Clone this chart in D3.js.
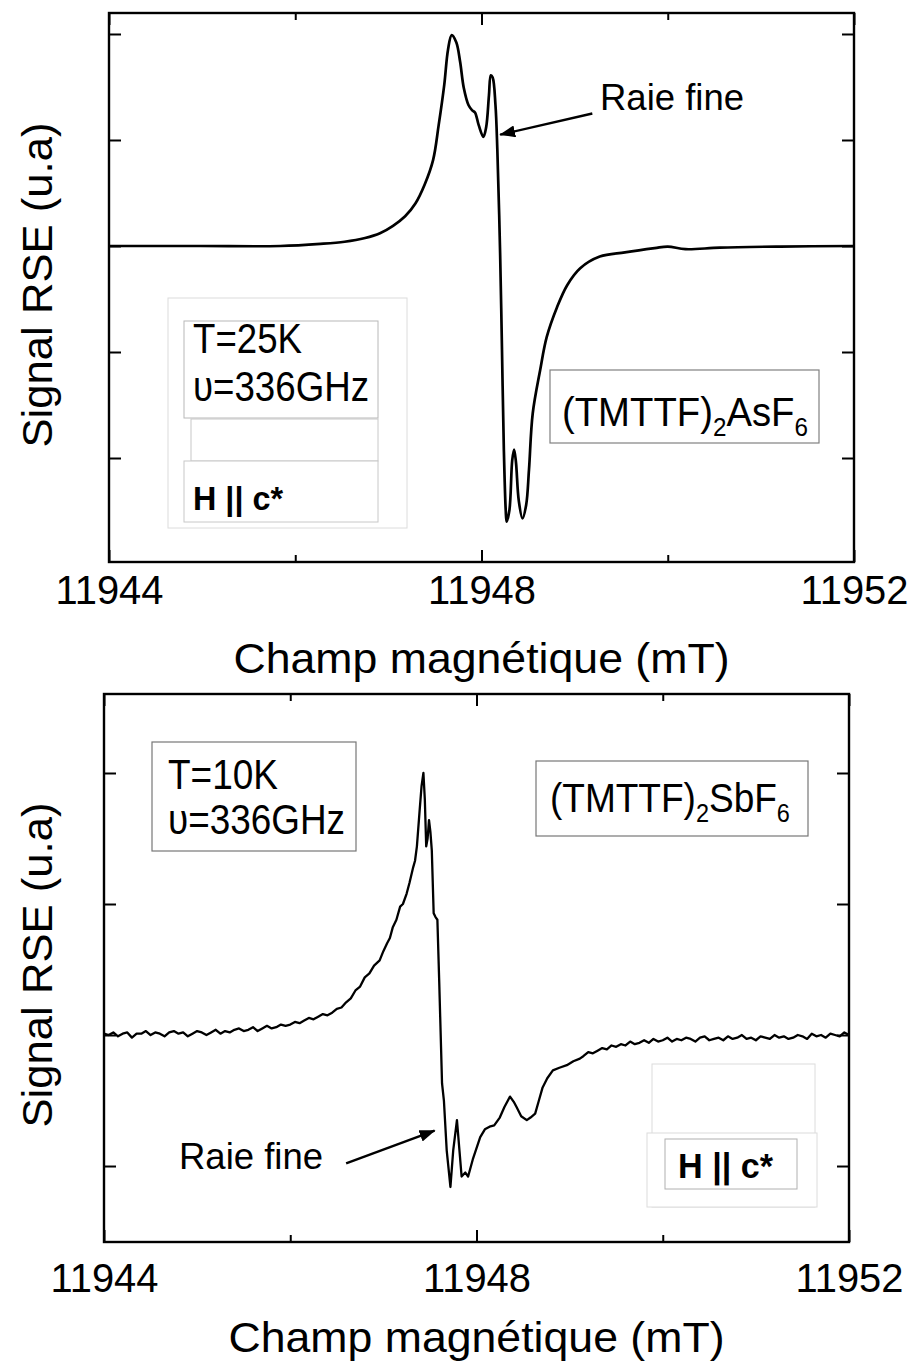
<!DOCTYPE html>
<html>
<head>
<meta charset="utf-8">
<script src="https://cdn.jsdelivr.net/npm/d3@7"></script>
<style>
  html, body { margin: 0; padding: 0; background: #fff; }
  svg { display: block; }
  text { font-family: "Liberation Sans", Arial, sans-serif; fill: #000; }
</style>
</head>
<body>
<svg id="chart" width="910" height="1361"></svg>
<script>
// ---------------- DATA ----------------
const xTicks = [11944, 11946, 11948, 11950, 11952];
const xTickLabels = ["11944", "", "11948", "", "11952"];
const yTicksTop = [-2, -1, 0, 1, 2];
const yTicksBottom = [-1, 0, 1, 2];

// Top panel: (TMTTF)2AsF6, T = 25 K
const fieldTop = [
  11944.00, 11944.98, 11945.84, 11946.27, 11946.53, 11946.75, 11946.91, 11947.05,
  11947.18, 11947.29, 11947.39, 11947.48, 11947.54, 11947.60, 11947.64, 11947.68,
  11947.73, 11947.77, 11947.81, 11947.86, 11947.90, 11947.93, 11947.97, 11948.02,
  11948.05, 11948.08, 11948.10, 11948.12, 11948.15, 11948.17, 11948.20, 11948.22,
  11948.24, 11948.26, 11948.27, 11948.30, 11948.33, 11948.35, 11948.37, 11948.40,
  11948.44, 11948.48, 11948.51, 11948.55, 11948.63, 11948.70, 11948.81, 11948.92,
  11949.06, 11949.27, 11949.54, 11949.86, 11950.00, 11950.19, 11950.56, 11951.21,
  11952.00
];
const signalTop = [
  0.00, 0.00, 0.00, 0.02, 0.04, 0.075, 0.12, 0.19,
  0.28, 0.40, 0.58, 0.81, 1.14, 1.52, 1.85, 1.99,
  1.92, 1.74, 1.49, 1.33, 1.28, 1.26, 1.14, 1.03,
  1.12, 1.42, 1.61, 1.59, 1.33, 0.91, -0.07, -0.98,
  -1.92, -2.49, -2.60, -2.49, -2.02, -1.92, -2.04, -2.40,
  -2.57, -2.44, -2.11, -1.58, -1.17, -0.86, -0.58, -0.37,
  -0.21, -0.10, -0.06, -0.02, -0.005, -0.03, -0.015, -0.005,
  0.00
];

// Bottom panel: (TMTTF)2SbF6, T = 10 K
const fieldBottom = [
  11944.00, 11944.05, 11944.10, 11944.15, 11944.20, 11944.25, 11944.30, 11944.35, 11944.40, 11944.45,
  11944.50, 11944.55, 11944.60, 11944.65, 11944.70, 11944.75, 11944.80, 11944.85, 11944.90, 11944.95,
  11945.00, 11945.05, 11945.10, 11945.15, 11945.20, 11945.25, 11945.30, 11945.35, 11945.40, 11945.45,
  11945.50, 11945.55, 11945.60, 11945.65, 11945.70, 11945.75, 11945.80, 11945.85, 11945.90, 11945.95,
  11946.00, 11946.05, 11946.10, 11946.15, 11946.20, 11946.25, 11946.30, 11946.35, 11946.40, 11946.45,
  11946.50, 11946.55, 11946.60, 11946.65, 11946.70, 11946.75, 11946.80, 11946.85, 11946.90, 11946.96,
  11947.00, 11947.04, 11947.07, 11947.10, 11947.14, 11947.18, 11947.21, 11947.25, 11947.28, 11947.32,
  11947.34, 11947.36, 11947.39, 11947.41, 11947.43, 11947.445, 11947.46, 11947.475, 11947.49, 11947.505,
  11947.52, 11947.54, 11947.56, 11947.58, 11947.60, 11947.63, 11947.65, 11947.68, 11947.72, 11947.75,
  11947.79, 11947.84, 11947.88, 11947.91, 11947.96, 11948.04, 11948.09, 11948.14, 11948.19, 11948.25,
  11948.30, 11948.36, 11948.40, 11948.43, 11948.48, 11948.54, 11948.58, 11948.63, 11948.67, 11948.71,
  11948.76, 11948.82, 11948.89, 11948.97, 11949.04, 11949.11,
  11949.15, 11949.20, 11949.25, 11949.30, 11949.35, 11949.40, 11949.45, 11949.50, 11949.55, 11949.60,
  11949.65, 11949.70, 11949.75, 11949.80, 11949.85, 11949.90, 11949.95, 11950.00, 11950.05, 11950.10,
  11950.15, 11950.20, 11950.25, 11950.30, 11950.35, 11950.40, 11950.45, 11950.50, 11950.55, 11950.60,
  11950.65, 11950.70, 11950.75, 11950.80, 11950.85, 11950.90, 11950.95, 11951.00, 11951.05, 11951.10,
  11951.15, 11951.20, 11951.25, 11951.30, 11951.35, 11951.40, 11951.45, 11951.50, 11951.55, 11951.60,
  11951.65, 11951.70, 11951.75, 11951.80, 11951.85, 11951.90, 11951.95, 11952.00
];
const signalBottom = [
  0.01, 0.00, 0.02, -0.01, 0.01, 0.02, -0.02, 0.01, 0.01, 0.03,
  0.00, 0.02, 0.01, -0.01, 0.02, 0.03, 0.01, 0.02, -0.01, 0.01,
  0.03, 0.02, 0.00, 0.02, 0.04, 0.01, 0.03, 0.02, 0.04, 0.05,
  0.03, 0.04, 0.06, 0.03, 0.05, 0.07, 0.05, 0.06, 0.08, 0.07,
  0.08, 0.10, 0.09, 0.11, 0.13, 0.12, 0.14, 0.16, 0.15, 0.17,
  0.20, 0.21, 0.25, 0.28, 0.34, 0.37, 0.44, 0.47, 0.53, 0.57,
  0.64, 0.70, 0.74, 0.82, 0.88, 0.98, 1.00, 1.08, 1.16, 1.28,
  1.33, 1.44, 1.72, 1.90, 2.00, 1.80, 1.44, 1.50, 1.64, 1.55,
  1.41, 0.93, 0.90, 0.88, 0.40, -0.37, -0.50, -0.88, -1.16, -0.88,
  -0.65, -1.08, -1.05, -1.08, -0.95, -0.78, -0.72, -0.70, -0.69, -0.63,
  -0.55, -0.47, -0.51, -0.55, -0.62, -0.65, -0.63, -0.60, -0.50, -0.40,
  -0.33, -0.27, -0.25, -0.23, -0.20, -0.18,
  -0.16, -0.13, -0.14, -0.12, -0.10, -0.11, -0.08, -0.09, -0.07, -0.08,
  -0.05, -0.07, -0.06, -0.04, -0.06, -0.03, -0.05, -0.04, -0.02, -0.05,
  -0.03, -0.04, -0.02, -0.03, -0.05, -0.02, -0.01, -0.04, -0.03, -0.02,
  -0.04, -0.01, -0.03, -0.02, 0.00, -0.03, -0.02, -0.04, -0.01, -0.02,
  -0.03, 0.00, -0.02, -0.01, -0.03, -0.02, 0.00, -0.01, -0.03, 0.01,
  -0.01, 0.00, -0.02, 0.01, 0.00, -0.01, 0.02, 0.00
];

// ---------------- LAYOUT ----------------
const svg = d3.select("#chart");
const FONT = '"Liberation Sans", Arial, sans-serif';

svg.append("defs").append("marker")
  .attr("id", "arrow")
  .attr("markerUnits", "userSpaceOnUse")
  .attr("viewBox", "0 0 16 12")
  .attr("refX", 15).attr("refY", 6)
  .attr("markerWidth", 16).attr("markerHeight", 12)
  .attr("orient", "auto")
  .append("path").attr("d", "M0,0 L16,6 L0,12 Z").attr("fill", "#000");

function label(g, txt, x, y, size, width, opts = {}) {
  const t = g.append("text")
    .attr("x", x).attr("y", y)
    .attr("font-size", size)
    .attr("font-weight", opts.bold ? "bold" : null)
    .attr("text-anchor", opts.anchor || "start")
    .text(txt);
  if (width) t.attr("textLength", width).attr("lengthAdjust", "spacingAndGlyphs");
  if (opts.transform) t.attr("transform", opts.transform);
  return t;
}

function formula(g, x, y, main1, sub1, main2, sub2, targetW) {
  const grp = g.append("g");
  const t = grp.append("text").attr("x", 0).attr("y", 0).attr("font-size", 41);
  t.append("tspan").text(main1);
  t.append("tspan").attr("font-size", 26).attr("dy", 10).text(sub1);
  t.append("tspan").attr("dy", -10).text(main2);
  t.append("tspan").attr("font-size", 26).attr("dy", 10).text(sub2);
  const w = t.node().getComputedTextLength();
  grp.attr("transform", `translate(${x},${y}) scale(${targetW / w},1)`);
}

function panel(p) {
  const g = svg.append("g");
  const x = d3.scaleLinear().domain([11944, 11952]).range([p.l, p.r]);
  const y = d3.scaleLinear().domain(p.yd).range([p.b, p.t]);

  // curve
  const pts = p.fx.map((f, i) => [f, p.sy[i]]);
  g.append("path")
    .datum(pts)
    .attr("fill", "none")
    .attr("stroke", "#000")
    .attr("stroke-width", p.sw)
    .attr("stroke-linejoin", "round")
    .attr("d", d3.line().x(d => x(d[0])).y(d => y(d[1])).curve(p.curve));

  // axes (ticks inward on all four sides)
  const major = xTicks.filter((d, i) => xTickLabels[i] !== "");
  const minor = xTicks.filter((d, i) => xTickLabels[i] === "");
  const fmt = d => xTickLabels[xTicks.indexOf(d)];

  const axB = g.append("g").attr("transform", `translate(0,${p.b})`)
    .call(d3.axisBottom(x).tickValues(major).tickSize(-12).tickSizeOuter(0).tickFormat(fmt));
  axB.selectAll("text").attr("y", p.labY - p.b).attr("dy", 0)
    .attr("font-size", 40).attr("font-family", FONT).attr("fill", "#000")
    .attr("textLength", 108).attr("lengthAdjust", "spacingAndGlyphs");
  g.append("g").attr("transform", `translate(0,${p.b})`)
    .call(d3.axisBottom(x).tickValues(minor).tickSize(-7).tickSizeOuter(0).tickFormat(""));
  g.append("g").attr("transform", `translate(0,${p.t})`)
    .call(d3.axisTop(x).tickValues(major).tickSize(-12).tickSizeOuter(0).tickFormat(""));
  g.append("g").attr("transform", `translate(0,${p.t})`)
    .call(d3.axisTop(x).tickValues(minor).tickSize(-7).tickSizeOuter(0).tickFormat(""));
  g.append("g").attr("transform", `translate(${p.l},0)`)
    .call(d3.axisLeft(y).tickValues(p.yt).tickSize(-12).tickSizeOuter(0).tickFormat(""));
  g.append("g").attr("transform", `translate(${p.r},0)`)
    .call(d3.axisRight(y).tickValues(p.yt).tickSize(-12).tickSizeOuter(0).tickFormat(""));
  g.selectAll(".domain").remove();
  g.selectAll(".tick line").attr("stroke", "#000").attr("stroke-width", 2);

  // frame
  g.append("rect").attr("x", p.l).attr("y", p.t)
    .attr("width", p.r - p.l).attr("height", p.b - p.t)
    .attr("fill", "none").attr("stroke", "#000").attr("stroke-width", 2.4);

  // axis titles
  label(g, "Champ magnétique (mT)", (p.l + p.r) / 2, p.titleY, 42, 496, { anchor: "middle" });
  label(g, "Signal RSE (u.a)", 0, 0, 42, 325,
        { anchor: "middle", transform: `translate(52,${p.ytitleY}) rotate(-90)` });

  // arrow "Raie fine"
  g.append("line")
    .attr("x1", x(p.arrow[0])).attr("y1", y(p.arrow[1]))
    .attr("x2", x(p.arrow[2])).attr("y2", y(p.arrow[3]))
    .attr("stroke", "#000").attr("stroke-width", 2.4)
    .attr("marker-end", "url(#arrow)");
  label(g, "Raie fine", p.raie[0], p.raie[1], 36, 144);

  return g;
}

// ---------- top panel ----------
const gTop = panel({
  l: 109, r: 854, t: 13, b: 562, yd: [-2.981, 2.198], yt: yTicksTop,
  fx: fieldTop, sy: signalTop, curve: d3.curveCatmullRom.alpha(0.5), sw: 2.7,
  labY: 604, titleY: 673, ytitleY: 285,
  arrow: [11949.19, 1.25, 11948.20, 1.05], raie: [600, 110]
});
// boxes top
const boxT = gTop.append("g");
boxT.append("rect").attr("x", 168).attr("y", 298).attr("width", 239).attr("height", 230)
  .attr("fill", "#fff").attr("stroke", "#dcdcdc").attr("stroke-width", 1);
boxT.append("rect").attr("x", 184).attr("y", 321).attr("width", 194).attr("height", 97)
  .attr("fill", "#fff").attr("stroke", "#b8b8b8").attr("stroke-width", 1);
boxT.append("rect").attr("x", 191).attr("y", 419).attr("width", 187).attr("height", 42)
  .attr("fill", "#fff").attr("stroke", "#c8c8c8").attr("stroke-width", 1);
boxT.append("rect").attr("x", 184).attr("y", 461).attr("width", 194).attr("height", 61)
  .attr("fill", "#fff").attr("stroke", "#c8c8c8").attr("stroke-width", 1);
label(boxT, "T=25K", 193, 353, 42, 109);
label(boxT, "\u03C5=336GHz", 193, 401, 42, 176);
label(boxT, "H || c*", 193, 510, 33, 90, { bold: true });
gTop.append("rect").attr("x", 550).attr("y", 370).attr("width", 269).attr("height", 73)
  .attr("fill", "#fff").attr("stroke", "#808080").attr("stroke-width", 1.2);
formula(gTop, 562, 426, "(TMTTF)", "2", "AsF", "6", 246);

// ---------- bottom panel ----------
const gBot = panel({
  l: 104, r: 849, t: 694, b: 1242, yd: [-1.580, 2.603], yt: yTicksBottom,
  fx: fieldBottom, sy: signalBottom, curve: d3.curveLinear, sw: 2.3,
  labY: 1292, titleY: 1352, ytitleY: 965,
  arrow: [11946.60, -0.98, 11947.55, -0.73], raie: [179, 1169]
});
gBot.append("rect").attr("x", 152).attr("y", 742).attr("width", 204).attr("height", 109)
  .attr("fill", "#fff").attr("stroke", "#777").attr("stroke-width", 1.2);
label(gBot, "T=10K", 168, 789, 42, 110);
label(gBot, "\u03C5=336GHz", 168, 834, 42, 177);
gBot.append("rect").attr("x", 536).attr("y", 761).attr("width", 272).attr("height", 75)
  .attr("fill", "#fff").attr("stroke", "#777").attr("stroke-width", 1.2);
formula(gBot, 550, 812, "(TMTTF)", "2", "SbF", "6", 240);
gBot.append("rect").attr("x", 652).attr("y", 1064).attr("width", 163).attr("height", 143)
  .attr("fill", "#fff").attr("stroke", "#dcdcdc").attr("stroke-width", 1);
gBot.append("rect").attr("x", 647).attr("y", 1133).attr("width", 170).attr("height", 74)
  .attr("fill", "#fff").attr("stroke", "#dcdcdc").attr("stroke-width", 1);
gBot.append("rect").attr("x", 665).attr("y", 1139).attr("width", 132).attr("height", 50)
  .attr("fill", "#fff").attr("stroke", "#b0b0b0").attr("stroke-width", 1);
label(gBot, "H || c*", 678, 1178, 35, 95, { bold: true });
</script>
</body>
</html>
